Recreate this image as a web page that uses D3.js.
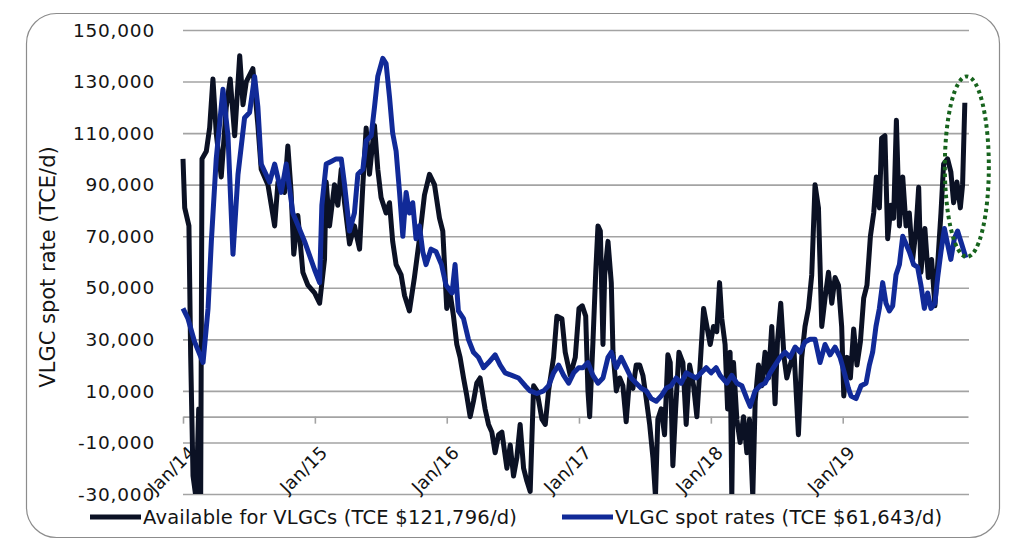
<!DOCTYPE html>
<html>
<head>
<meta charset="utf-8">
<script src="https://cdn.jsdelivr.net/npm/d3@7"></script>
<style>
  body { margin: 0; background: #fff; }
  svg { display: block; }
  text { font-family: "DejaVu Sans", sans-serif; fill: #141414; }
</style>
</head>
<body>
<svg width="1025" height="543"></svg>
<script>
// weekly-ish readings, time as decimal year
var availYear = [2014.00, 2014.013, 2014.045, 2014.058, 2014.076, 2014.10, 2014.119, 2014.134, 2014.144, 2014.177,
  2014.202, 2014.227, 2014.252, 2014.29, 2014.328, 2014.358, 2014.392, 2014.43, 2014.455, 2014.48,
  2014.53, 2014.568, 2014.593, 2014.644, 2014.695, 2014.72, 2014.77, 2014.795, 2014.82, 2014.84,
  2014.871, 2014.909, 2014.947, 2014.998, 2015.036, 2015.073, 2015.086, 2015.111, 2015.149, 2015.174,
  2015.2, 2015.225, 2015.263, 2015.30, 2015.339, 2015.364, 2015.389, 2015.414, 2015.452, 2015.477,
  2015.502, 2015.54, 2015.566, 2015.59, 2015.616, 2015.654, 2015.68, 2015.717, 2015.755, 2015.793,
  2015.831, 2015.869, 2015.907, 2015.945, 2015.97, 2016.0, 2016.025, 2016.051, 2016.076, 2016.101,
  2016.127, 2016.152, 2016.177, 2016.202, 2016.227, 2016.252, 2016.29, 2016.316, 2016.341, 2016.366,
  2016.392, 2016.417, 2016.455, 2016.48, 2016.505, 2016.53, 2016.555, 2016.581, 2016.606, 2016.631,
  2016.657, 2016.682, 2016.72, 2016.745, 2016.77, 2016.808, 2016.833, 2016.871, 2016.896, 2016.934,
  2016.972, 2017.0, 2017.025, 2017.051, 2017.068, 2017.081, 2017.106, 2017.127, 2017.144, 2017.162,
  2017.182, 2017.195, 2017.22, 2017.245, 2017.258, 2017.283, 2017.309, 2017.333, 2017.358, 2017.384,
  2017.409, 2017.434, 2017.46, 2017.485, 2017.51, 2017.536, 2017.561, 2017.58, 2017.598, 2017.623,
  2017.649, 2017.674, 2017.692, 2017.712, 2017.733, 2017.758, 2017.788, 2017.813, 2017.839, 2017.869,
  2017.894, 2017.92, 2017.945, 2017.97, 2017.995, 2018.02, 2018.045, 2018.066, 2018.083, 2018.108,
  2018.127, 2018.146, 2018.159, 2018.172, 2018.197, 2018.222, 2018.248, 2018.273, 2018.293, 2018.318,
  2018.336, 2018.361, 2018.386, 2018.411, 2018.437, 2018.462, 2018.487, 2018.505, 2018.53, 2018.555,
  2018.576, 2018.601, 2018.631, 2018.664, 2018.689, 2018.714, 2018.74, 2018.765, 2018.79, 2018.816,
  2018.841, 2018.866, 2018.892, 2018.917, 2018.942, 2018.968, 2018.992, 2019.008, 2019.033, 2019.058,
  2019.083, 2019.108, 2019.134, 2019.159, 2019.184, 2019.21, 2019.235, 2019.255, 2019.278, 2019.295,
  2019.32, 2019.341, 2019.366, 2019.386, 2019.407, 2019.43, 2019.455, 2019.48, 2019.505, 2019.53,
  2019.555, 2019.576, 2019.593, 2019.623, 2019.649, 2019.674, 2019.699, 2019.72, 2019.745, 2019.765,
  2019.795, 2019.82, 2019.841, 2019.866, 2019.892, 2019.909, 2019.926];
var availRate = [100000, 81000, 74000, 24000, -23000, -32000, 3000, -32000, 100000, 103000,
  112000, 131000, 110000, 93000, 120000, 131000, 109000, 140000, 121000, 130000,
  135000, 113000, 96000, 90000, 74000, 91000, 87000, 105000, 87000, 63000,
  78000, 56000, 51000, 48000, 44000, 61000, 91000, 74000, 90000, 82000,
  96000, 83000, 67000, 74000, 65000, 90000, 112000, 94000, 113000, 96000,
  85000, 79000, 83000, 68000, 59000, 55000, 47000, 41000, 54000, 69000,
  86000, 94000, 90000, 77000, 72000, 42000, 48000, 39000, 28000, 23000,
  15000, 8000, 0, 6000, 13000, 15000, 3000, -3000, -6000, -14000,
  -7000, -6000, -20000, -11000, -23000, -16000, -3000, -20000, -25000, -29000,
  12000, 10000, -1000, -3000, 10000, 23000, 39000, 38000, 25000, 16000,
  23000, 42000, 43000, 39000, 10000, 0, 29000, 56000, 74000, 72000,
  28000, 55000, 68000, 52000, 25000, 10000, 15000, 12000, -2000, 15000,
  11000, 20000, 20000, 16000, 7000, -3000, -16000, -31000, -1000, 3000,
  -7000, 24000, 21000, -19000, 3000, 25000, 21000, -3000, 20000, 12000,
  0, 21000, 42000, 35000, 28000, 35000, 33000, 52000, 38000, 28000,
  3000, 25000, -31000, 21000, -1000, -10000, 0, -14000, -1000, -31000,
  6000, 20000, 12000, 25000, 15000, 35000, 5000, 29000, 44000, 23000,
  15000, 20000, 25000, -7000, 23000, 35000, 42000, 55000, 90000, 81000,
  35000, 46000, 56000, 44000, 54000, 51000, 35000, 8000, 23000, 15000,
  34000, 20000, 29000, 46000, 51000, 70000, 79000, 93000, 81000, 108000,
  109000, 69000, 82000, 77000, 115000, 74000, 93000, 74000, 79000, 61000,
  72000, 89000, 56000, 73000, 54000, 61000, 43000, 59000, 79000, 98000,
  100000, 95000, 83000, 91000, 81000, 90000, 121796];

var spotYear = [2014.00, 2014.038, 2014.088, 2014.152, 2014.19, 2014.215, 2014.252, 2014.303, 2014.341, 2014.379,
  2014.417, 2014.467, 2014.505, 2014.543, 2014.568, 2014.593, 2014.657, 2014.695, 2014.745, 2014.783,
  2014.833, 2014.922, 2014.998, 2015.036, 2015.053, 2015.086, 2015.124, 2015.161, 2015.2, 2015.225,
  2015.263, 2015.30, 2015.326, 2015.364, 2015.389, 2015.427, 2015.452, 2015.477, 2015.515, 2015.54,
  2015.566, 2015.59, 2015.616, 2015.642, 2015.667, 2015.692, 2015.717, 2015.742, 2015.767, 2015.793,
  2015.818, 2015.843, 2015.881, 2015.919, 2015.96, 2015.995, 2016.04, 2016.063, 2016.088, 2016.127,
  2016.164, 2016.202, 2016.24, 2016.278, 2016.316, 2016.366, 2016.404, 2016.442, 2016.492, 2016.543,
  2016.593, 2016.631, 2016.682, 2016.733, 2016.77, 2016.808, 2016.846, 2016.884, 2016.922, 2016.96,
  2016.998, 2017.03, 2017.068, 2017.106, 2017.144, 2017.182, 2017.22, 2017.245, 2017.283, 2017.32,
  2017.358, 2017.396, 2017.434, 2017.472, 2017.51, 2017.548, 2017.586, 2017.623, 2017.661, 2017.699,
  2017.737, 2017.775, 2017.813, 2017.851, 2017.889, 2017.927, 2017.965, 2018.002, 2018.04, 2018.07,
  2018.121, 2018.159, 2018.197, 2018.235, 2018.273, 2018.298, 2018.336, 2018.374, 2018.411, 2018.45,
  2018.487, 2018.525, 2018.563, 2018.601, 2018.639, 2018.677, 2018.714, 2018.752, 2018.79, 2018.828,
  2018.866, 2018.904, 2018.942, 2018.98, 2019.018, 2019.043, 2019.063, 2019.101, 2019.139, 2019.177,
  2019.202, 2019.227, 2019.252, 2019.278, 2019.303, 2019.328, 2019.354, 2019.379, 2019.404, 2019.43,
  2019.455, 2019.48, 2019.505, 2019.538, 2019.568, 2019.593, 2019.619, 2019.644, 2019.669, 2019.699,
  2019.72, 2019.745, 2019.771, 2019.795, 2019.82, 2019.846, 2019.871, 2019.902, 2019.934];
var spotRate = [42000, 38000, 29000, 21000, 42000, 68000, 100000, 127000, 109000, 63000,
  94000, 116000, 118000, 132000, 120000, 98000, 91000, 98000, 87000, 98000,
  79000, 68000, 57000, 52000, 82000, 98000, 99000, 100000, 100000, 90000,
  72000, 79000, 94000, 96000, 107000, 109000, 120000, 132000, 139000, 137000,
  124000, 110000, 103000, 87000, 70000, 87000, 79000, 83000, 69000, 74000,
  64000, 59000, 65000, 64000, 59000, 51000, 48000, 59000, 41000, 38000,
  30000, 25000, 23000, 19000, 21000, 24000, 20000, 17000, 16000, 15000,
  12000, 10000, 9000, 10000, 12000, 17000, 20000, 16000, 13000, 17000,
  19000, 19000, 21000, 16000, 13000, 15000, 23000, 25000, 19000, 23000,
  19000, 15000, 13000, 11000, 10000, 7000, 6000, 8000, 11000, 12000,
  15000, 13000, 17000, 16000, 15000, 17000, 19000, 17000, 19000, 16000,
  13000, 16000, 13000, 12000, 7000, 4000, 10000, 12000, 13000, 17000,
  20000, 23000, 25000, 23000, 27000, 25000, 29000, 30000, 30000, 21000,
  28000, 24000, 27000, 23000, 16000, 11000, 8000, 7000, 12000, 13000,
  20000, 25000, 35000, 42000, 52000, 44000, 41000, 43000, 55000, 59000,
  70000, 67000, 64000, 59000, 58000, 51000, 42000, 48000, 42000, 44000,
  54000, 64000, 73000, 67000, 61000, 69000, 72000, 67000, 61643];

var yTicks = [-30000, -10000, 10000, 30000, 50000, 70000, 90000, 110000, 130000, 150000];
var xTickYears = [2014, 2015, 2016, 2017, 2018, 2019];
var xTickLabels = ["Jan/14", "Jan/15", "Jan/16", "Jan/17", "Jan/18", "Jan/19"];
var seriesNames = ["Available for VLGCs (TCE $121,796/d)", "VLGC spot rates (TCE $61,643/d)"];
var seriesColors = ["#0b1124", "#112a98"];
// dotted ring around the latest readings
var ringLow = 62000, ringHigh = 132000;

function yearToDate(t) {
    var yr = Math.floor(t);
    var a = new Date(yr, 0, 1), b = new Date(yr + 1, 0, 1);
    return new Date(+a + (t - yr) * (b - a));
}

var svg = d3.select("svg"),
    margin = {top: 30, right: 57, bottom: 49, left: 183},
    width = +svg.attr("width") - margin.left - margin.right,
    height = +svg.attr("height") - margin.top - margin.bottom;

var fmt = d3.formatLocale({decimal: ".", thousands: ",", grouping: [3], currency: ["$", ""], minus: "-"}).format(",");

var x = d3.scaleTime().domain([yearToDate(2014), yearToDate(2019.95)]).range([0, width]);
var y = d3.scaleLinear().domain([-30000, 150000]).range([height, 0]);

// rounded frame
svg.append("rect")
    .attr("x", 26.5).attr("y", 13.5)
    .attr("width", 973).attr("height", 524)
    .attr("rx", 30)
    .attr("fill", "none")
    .attr("stroke", "#8c8c8c")
    .attr("stroke-width", 1.2);

var g = svg.append("g").attr("transform", "translate(" + margin.left + "," + margin.top + ")");

// gridlines
g.append("g")
    .call(d3.axisLeft(y).tickValues(yTicks).tickSize(-width - 1).tickFormat(""))
    .call(function(a) { a.select(".domain").remove(); })
    .selectAll("line")
    .attr("stroke", "#a3a3a3")
    .attr("stroke-width", 1.6);

// y labels
g.selectAll(".ylab")
    .data(yTicks)
    .enter().append("text")
    .attr("class", "ylab")
    .attr("x", -28)
    .attr("y", function(d) { return y(d); })
    .attr("dy", "0.36em")
    .attr("text-anchor", "end")
    .style("font-size", "18.5px")
    .style("letter-spacing", "0.8px")
    .text(function(d) { return fmt(d); });

// x axis sits on zero
var xa = g.append("g")
    .attr("transform", "translate(0," + y(0) + ")")
    .call(d3.axisBottom(x)
        .tickValues(xTickYears.map(yearToDate))
        .tickSize(7)
        .tickSizeOuter(0)
        .tickFormat(function(d, i) { return xTickLabels[i]; }));
xa.select(".domain").attr("stroke", "#a3a3a3").attr("stroke-width", 1.6);
xa.selectAll(".tick line").attr("stroke", "#a3a3a3").attr("stroke-width", 1.6);
xa.selectAll(".tick text")
    .attr("x", 13).attr("y", 37).attr("dy", 0)
    .attr("fill", "#141414")
    .style("font-size", "18px")
    .style("font-family", "'DejaVu Sans', sans-serif")
    .style("letter-spacing", "0.2px")
    .style("text-anchor", "end")
    .attr("transform", "rotate(-45,13,37)");

// y title
svg.append("text")
    .attr("transform", "translate(55,267) rotate(-90)")
    .attr("text-anchor", "middle")
    .style("font-size", "21px")
    .text("VLGC spot rate (TCE/d)");

// lines
svg.append("clipPath").attr("id", "plotclip")
    .append("rect").attr("x", -5).attr("y", -10).attr("width", width + 10).attr("height", height + 10);

var valueline = d3.line()
    .x(function(d) { return x(yearToDate(d[0])); })
    .y(function(d) { return y(d[1]); });

var lines = g.append("g").attr("clip-path", "url(#plotclip)");
var allSeries = [d3.zip(availYear, availRate), d3.zip(spotYear, spotRate)];
for (var i = 0; i < allSeries.length; i++) {
    lines.append("path")
        .datum(allSeries[i])
        .attr("fill", "none")
        .attr("stroke", seriesColors[i])
        .attr("stroke-width", 5)
        .attr("stroke-linejoin", "round")
        .attr("d", valueline);
}

// annotation ring
var lastX = x(yearToDate(availYear[availYear.length - 1]));
g.append("ellipse")
    .attr("cx", lastX + 2)
    .attr("cy", (y(ringLow) + y(ringHigh)) / 2)
    .attr("rx", 22)
    .attr("ry", (y(ringLow) - y(ringHigh)) / 2)
    .attr("fill", "none")
    .attr("stroke", "#17631d")
    .attr("stroke-width", 4)
    .attr("stroke-dasharray", "3.5 3.5");

// legend
var legX = [90, 562];
for (var i = 0; i < seriesNames.length; i++) {
    svg.append("line")
        .attr("x1", legX[i]).attr("x2", legX[i] + 51)
        .attr("y1", 517).attr("y2", 517)
        .attr("stroke", seriesColors[i])
        .attr("stroke-width", 5);
    svg.append("text")
        .attr("x", legX[i] + 53)
        .attr("y", 517)
        .attr("dy", "0.36em")
        .style("font-size", "19.5px")
        .style("letter-spacing", "0.2px")
        .text(seriesNames[i]);
}
</script>
</body>
</html>
